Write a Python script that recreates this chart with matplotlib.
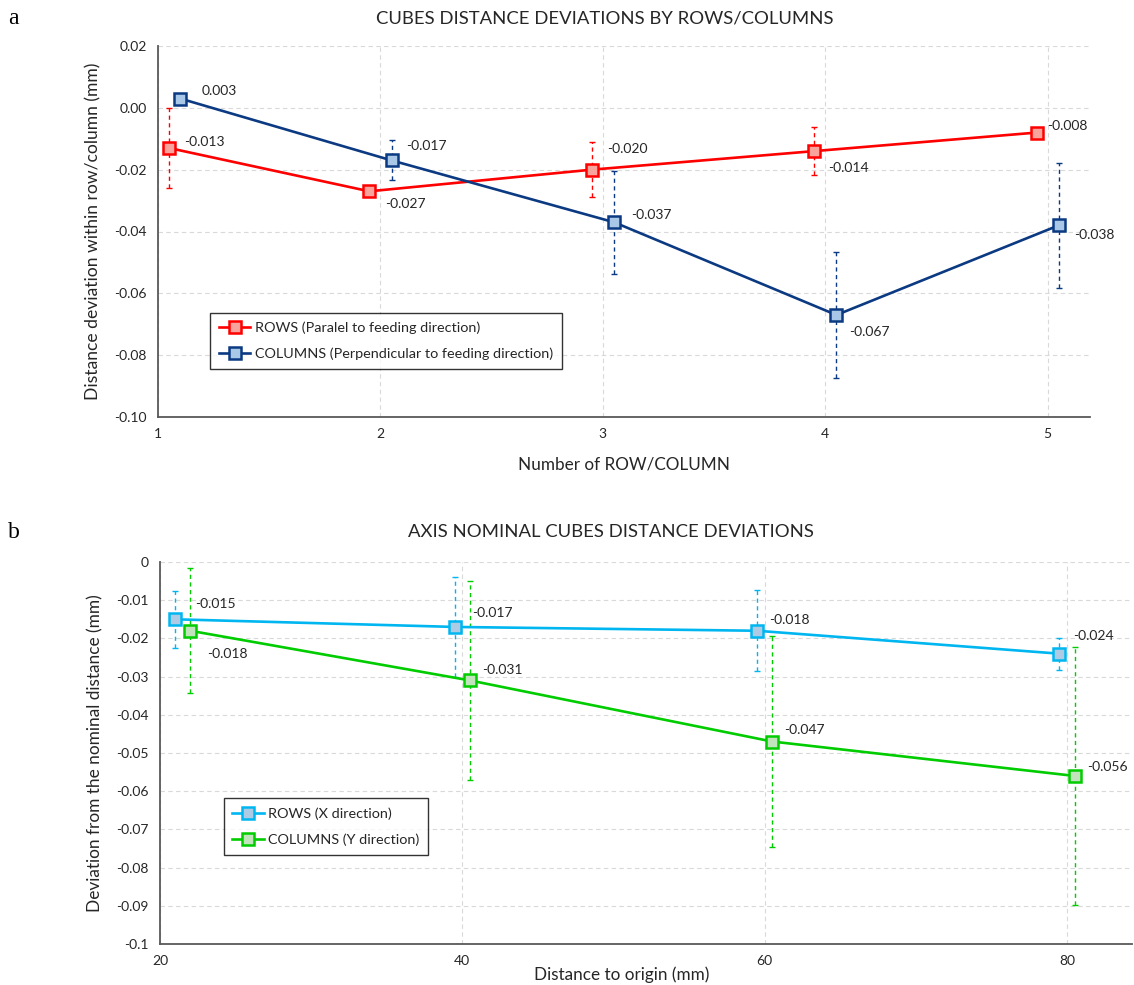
import numpy as np
import matplotlib
matplotlib.use('Agg')
import matplotlib.pyplot as plt

plt.rcParams['font.family'] = ['Lato', 'DejaVu Sans']
plt.rcParams['axes.unicode_minus'] = False

# a) deviations by row / column number
rows_x = [1.05, 1.95, 2.95, 3.95, 4.95]
rows_y = [-0.013, -0.027, -0.020, -0.014, -0.008]
rows_err = [0.013, 0.0015, 0.009, 0.0078, 0.0015]
cols_x = [1.10, 2.05, 3.05, 4.05, 5.05]
cols_y = [0.003, -0.017, -0.037, -0.067, -0.038]
cols_err = [0.001, 0.0065, 0.0167, 0.0205, 0.0202]
rows_lbl_off = [(15, 6), (16, -13), (15, 21), (14, -17), (11, 7)]
cols_lbl_off = [(21, 8), (15, 14), (17, 7), (13, -17), (15, -10)]
a_yticks = [0.02, 0.0, -0.02, -0.04, -0.06, -0.08, -0.10]
a_ylabels = ['0.02', '0.00', '-0.02', '-0.04', '-0.06', '-0.08', '-0.10']
a_xticks = [1, 2, 3, 4, 5]

# b) deviations vs distance to origin
xdir_x = [21, 39.5, 59.5, 79.5]
xdir_y = [-0.015, -0.017, -0.018, -0.024]
xdir_err = [0.0075, 0.013, 0.0106, 0.0042]
ydir_x = [22, 40.5, 60.5, 80.5]
ydir_y = [-0.018, -0.031, -0.047, -0.056]
ydir_err = [0.0164, 0.026, 0.0276, 0.0337]
xdir_lbl_off = [(20, 15), (17, 14), (12, 11), (14, 18)]
ydir_lbl_off = [(17, -23), (12, 10), (12, 12), (13, 9)]
b_yticks = [0, -0.01, -0.02, -0.03, -0.04, -0.05, -0.06, -0.07, -0.08, -0.09, -0.1]
b_ylabels = ['0', '-0.01', '-0.02', '-0.03', '-0.04', '-0.05', '-0.06', '-0.07', '-0.08', '-0.09', '-0.1']
b_xticks = [20, 40, 60, 80]

RED, RED_FACE = '#FF0000', '#F8A49C'
NAVY, NAVY_FACE = '#0B3A82', '#A9C8E8'
CYAN, CYAN_FACE = '#00B6F0', '#AECBE6'
GREEN, GREEN_FACE = '#00CC00', '#C2E4BC'
TXT = '#262626'


def series(ax, x, y, err, color, face, label, offsets):
    eb = ax.errorbar(x, y, yerr=err, fmt='none', ecolor=color, elinewidth=1.0,
                     capsize=2, capthick=1.0, zorder=2)
    eb[2][0].set_linestyle((0, (3, 2.5)))
    ax.plot(x, y, '-s', color=color, lw=1.9, ms=8.5, mfc=face, mec=color,
            mew=1.8, label=label, zorder=3)
    for xi, yi, (dx, dy) in zip(x, y, offsets):
        ax.annotate('%.3f' % yi, (xi, yi), xytext=(dx, dy), textcoords='offset pixels',
                    ha='left', va='center', fontsize=10, color=TXT, zorder=4)


def style(ax):
    ax.grid(True, color='#D9D9D9', ls=(0, (4, 3)), lw=0.8)
    ax.set_axisbelow(True)
    for s in ['top', 'right']:
        ax.spines[s].set_visible(False)
    for s in ['left', 'bottom']:
        ax.spines[s].set_color('#595959')
        ax.spines[s].set_linewidth(1.3)
    ax.tick_params(length=0, labelsize=10, labelcolor=TXT, pad=8)


def legend(ax, anchor):
    leg = ax.legend(loc='lower left', bbox_to_anchor=anchor, fontsize=10.4,
                    frameon=True, fancybox=False, edgecolor='black', handlelength=2.2,
                    handletextpad=0.3, borderpad=0.6, labelspacing=0.95)
    leg.get_frame().set_linewidth(1.0)
    for t in leg.get_texts():
        t.set_color(TXT)


fig = plt.figure(figsize=(11.34, 9.85), dpi=100)

ax1 = fig.add_axes([158 / 1134, 1 - 417 / 985, 932 / 1134, 371 / 985])
series(ax1, rows_x, rows_y, rows_err, RED, RED_FACE,
       'ROWS (Paralel to feeding direction)', rows_lbl_off)
series(ax1, cols_x, cols_y, cols_err, NAVY, NAVY_FACE,
       'COLUMNS (Perpendicular to feeding direction)', cols_lbl_off)
ax1.set_xlim(1, 5.19)
ax1.set_ylim(-0.10, 0.02)
ax1.set_xticks(a_xticks)
ax1.set_yticks(a_yticks)
ax1.set_yticklabels(a_ylabels)
style(ax1)
ax1.set_xlabel('Number of ROW/COLUMN', fontsize=12.3, color=TXT, labelpad=12)
ax1.set_ylabel('Distance deviation within row/column (mm)', fontsize=12.6, color=TXT, labelpad=9)
legend(ax1, (0.048, 0.11))

ax2 = fig.add_axes([160 / 1134, 1 - 944 / 985, 972 / 1134, 382 / 985])
series(ax2, xdir_x, xdir_y, xdir_err, CYAN, CYAN_FACE, 'ROWS (X direction)', xdir_lbl_off)
series(ax2, ydir_x, ydir_y, ydir_err, GREEN, GREEN_FACE, 'COLUMNS (Y direction)', ydir_lbl_off)
ax2.set_xlim(20, 84.3)
ax2.set_ylim(-0.1, 0)
ax2.set_xticks(b_xticks)
ax2.set_yticks(b_yticks)
ax2.set_yticklabels(b_ylabels)
style(ax2)
ax2.set_xlabel('Distance to origin (mm)', fontsize=12.3, color=TXT)
ax2.xaxis.set_label_coords(0.475, -0.06)
ax2.set_ylabel('Deviation from the nominal distance (mm)', fontsize=12.4, color=TXT, labelpad=9)
legend(ax2, (0.058, 0.215))

# panel titles sit a little left of the axes centre
fig.text(605 / 1134, 1 - 18 / 985, 'CUBES DISTANCE DEVIATIONS BY ROWS/COLUMNS',
         fontsize=13.3, color=TXT, ha='center', va='center')
fig.text(611 / 1134, 1 - 532 / 985, 'AXIS NOMINAL CUBES DISTANCE DEVIATIONS',
         fontsize=13.3, color=TXT, ha='center', va='center')

fig.text(8 / 1134, 1 - 18 / 985, 'a', family='Liberation Serif', fontsize=17, va='center')
fig.text(8 / 1134, 1 - 532 / 985, 'b', family='Liberation Serif', fontsize=17, va='center')

fig.savefig('out.png', dpi=100)
